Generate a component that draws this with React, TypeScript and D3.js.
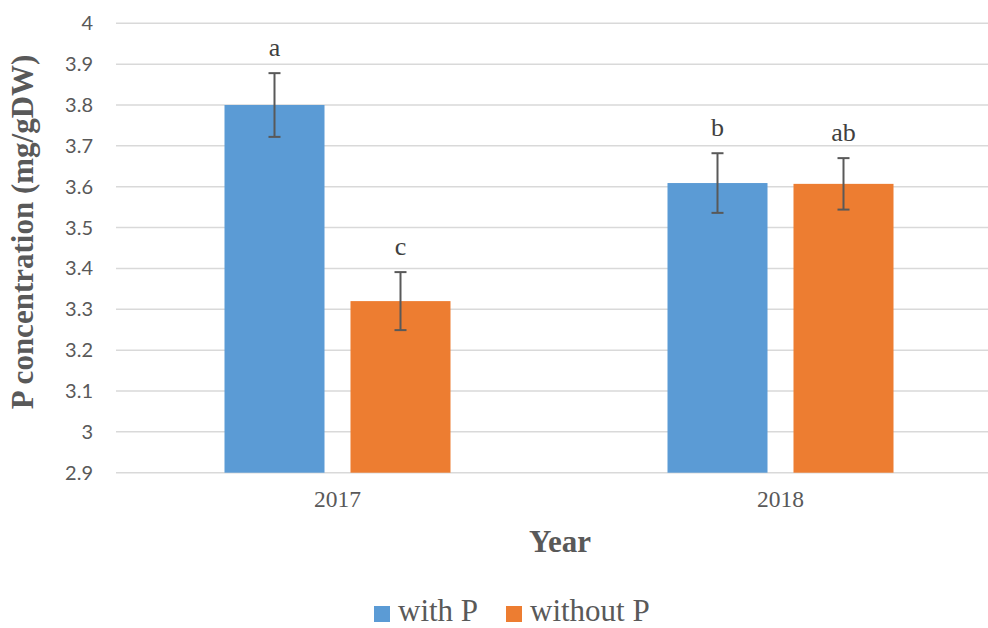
import React from "react";
import * as d3 from "d3";

const years = ["2017", "2018"];
const seriesNames = ["with P", "without P"];
const withP = [3.8, 3.609];
const withoutP = [3.32, 3.607];
const withPErr = [0.078, 0.073];
const withoutPErr = [0.071, 0.063];
const withPLabels = ["a", "b"];
const withoutPLabels = ["c", "ab"];
const yTicks = [2.9, 3, 3.1, 3.2, 3.3, 3.4, 3.5, 3.6, 3.7, 3.8, 3.9, 4];
const colors = ["#5B9BD5", "#ED7D31"];

const W = 988;
const H = 628;

export default function App() {
  const x0 = d3.scaleBand<string>().domain(years).range([116, 1002]).paddingInner(0).paddingOuter(0);
  const x1 = d3.scaleBand<string>().domain(seriesNames).range([-113, 113]).paddingInner(0.2063).paddingOuter(0);
  const y = d3.scaleLinear().domain([2.9, 4]).range([472.7, 23.3]);

  const data = seriesNames.map((s, si) => ({
    name: s,
    color: colors[si],
    values: si === 0 ? withP : withoutP,
    errs: si === 0 ? withPErr : withoutPErr,
    labels: si === 0 ? withPLabels : withoutPLabels,
  }));

  const textColor = "#595959";
  const serif = "'Liberation Serif', 'Times New Roman', serif";
  const sans = "Lato, 'Open Sans', sans-serif";

  return (
    <div style={{ position: "absolute", left: 0, top: 0, width: W, height: H, overflow: "hidden", background: "#fff" }}>
      <svg width={W} height={H} style={{ display: "block" }}>
        <rect x={0} y={0} width={W} height={H} fill="#fff" />
        {yTicks.map((t) => (
          <g key={t}>
            <line x1={116} x2={1002} y1={y(t)} y2={y(t)} stroke="#D9D9D9" strokeWidth={1.5} />
            <text x={93} y={y(t)} dy="0.35em" textAnchor="end" fontFamily={sans} fontSize={20} fill={textColor}>
              {d3.format("")(t)}
            </text>
          </g>
        ))}
        {data.map((s) =>
          years.map((yr, i) => {
            const cx = (x0(yr) as number) + x0.bandwidth() / 2;
            const bx = cx + (x1(s.name) as number);
            const bw = x1.bandwidth();
            const v = s.values[i];
            const e = s.errs[i];
            const mx = bx + bw / 2;
            return (
              <g key={s.name + yr}>
                <rect x={bx} y={y(v)} width={bw} height={y(2.9) - y(v)} fill={s.color} />
                <line x1={mx} x2={mx} y1={y(v + e)} y2={y(v - e)} stroke="#595959" strokeWidth={2} />
                <line x1={mx - 6} x2={mx + 6} y1={y(v + e)} y2={y(v + e)} stroke="#595959" strokeWidth={2} />
                <line x1={mx - 6} x2={mx + 6} y1={y(v - e)} y2={y(v - e)} stroke="#595959" strokeWidth={2} />
                <text x={mx} y={y(v + e) - 17} textAnchor="middle" fontFamily={serif} fontSize={26} fill="#404040">
                  {s.labels[i]}
                </text>
              </g>
            );
          })
        )}
        {years.map((yr) => (
          <text key={yr} x={(x0(yr) as number) + x0.bandwidth() / 2} y={507} textAnchor="middle" fontFamily={serif} fontSize={23.5} fill={textColor}>
            {yr}
          </text>
        ))}
        <text x={560} y={552} textAnchor="middle" fontFamily={serif} fontSize={31} fontWeight="bold" fill={textColor}>
          Year
        </text>
        <text transform={`translate(33,232) rotate(-90)`} textAnchor="middle" fontFamily={serif} fontSize={31} fontWeight="bold" fill={textColor}>
          P concentration (mg/gDW)
        </text>
        {data.map((s, si) => {
          const lx = si === 0 ? 374 : 506;
          return (
            <g key={s.name}>
              <rect x={lx} y={606} width={16} height={16} fill={s.color} />
              <text x={lx + 24} y={621} fontFamily={serif} fontSize={31} fill={textColor}>
                {s.name}
              </text>
            </g>
          );
        })}
      </svg>
    </div>
  );
}
